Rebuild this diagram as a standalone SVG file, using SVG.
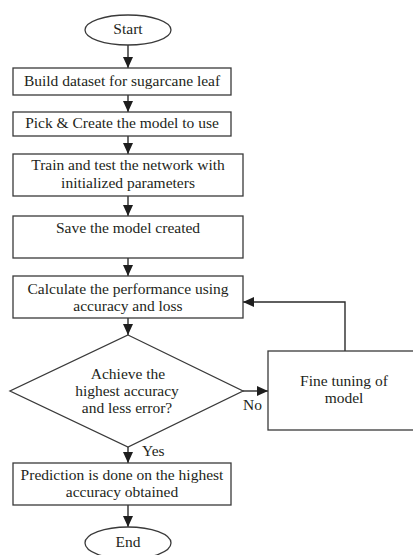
<svg xmlns="http://www.w3.org/2000/svg" width="413" height="555" viewBox="0 0 413 555">
  <style>
    .shape { fill: #ffffff; stroke: #3a3a3a; stroke-width: 1.3; }
    .edge { fill: none; stroke: #2b2b2b; stroke-width: 1.4; }
    .label { font-family: "Liberation Serif", "Times New Roman", serif; font-size: 15.5px; fill: #231f20; text-anchor: middle; }
    .tag { font-family: "Liberation Serif", "Times New Roman", serif; font-size: 15.5px; fill: #231f20; }
  </style>
  <defs>
    <marker id="arrow" markerUnits="userSpaceOnUse" markerWidth="12" markerHeight="12" viewBox="0 0 12 12" refX="11" refY="6" orient="auto">
      <path d="M0,1 L11,6 L0,11 Z" fill="#1e1e1e"/>
    </marker>
  </defs>

  <rect width="413" height="555" fill="#ffffff"/>

  <!-- connectors -->
  <g id="connectors">
    <line class="edge" x1="128" y1="45" x2="128" y2="68" marker-end="url(#arrow)"/>
    <line class="edge" x1="128" y1="95" x2="128" y2="112" marker-end="url(#arrow)"/>
    <line class="edge" x1="128" y1="136" x2="128" y2="154" marker-end="url(#arrow)"/>
    <line class="edge" x1="128" y1="196" x2="128" y2="216" marker-end="url(#arrow)"/>
    <line class="edge" x1="128" y1="258" x2="128" y2="276" marker-end="url(#arrow)"/>
    <line class="edge" x1="128" y1="318" x2="128" y2="335" marker-end="url(#arrow)"/>
    <line class="edge" x1="243" y1="391" x2="268" y2="391" marker-end="url(#arrow)"/>
    <polyline class="edge" points="345,351 345,302 243,302" marker-end="url(#arrow)"/>
    <line class="edge" x1="128" y1="447" x2="128" y2="463" marker-end="url(#arrow)"/>
    <line class="edge" x1="128" y1="505" x2="128" y2="527" marker-end="url(#arrow)"/>
    <text class="tag" x="243" y="410">No</text>
    <text class="tag" x="142" y="456">Yes</text>
  </g>

  <g id="start">
    <ellipse class="shape" cx="128" cy="30" rx="43" ry="15"/>
    <text class="label" x="128" y="34">Start</text>
  </g>

  <g id="build-dataset">
    <rect class="shape" x="13" y="68" width="218" height="27"/>
    <text class="label" x="122" y="86">Build dataset for sugarcane leaf</text>
  </g>

  <g id="pick-model">
    <rect class="shape" x="13" y="112" width="218" height="24"/>
    <text class="label" x="122" y="128">Pick &amp; Create the model to use</text>
  </g>

  <g id="train-test">
    <rect class="shape" x="13" y="154" width="230" height="42"/>
    <text class="label" x="128" y="170">Train and test the network with</text>
    <text class="label" x="128" y="188">initialized parameters</text>
  </g>

  <g id="save-model">
    <rect class="shape" x="13" y="216" width="230" height="42"/>
    <text class="label" x="128" y="233">Save the model created</text>
  </g>

  <g id="calculate">
    <rect class="shape" x="13" y="276" width="230" height="42"/>
    <text class="label" x="128" y="294">Calculate the performance using</text>
    <text class="label" x="128" y="311">accuracy and loss</text>
  </g>

  <g id="decision">
    <polygon class="shape" points="128,335 243,391 128,447 10,391"/>
    <text class="label" x="128" y="379">Achieve the</text>
    <text class="label" x="127" y="396">highest accuracy</text>
    <text class="label" x="127" y="413">and less error?</text>
  </g>

  <g id="fine-tuning">
    <rect class="shape" x="268" y="351" width="150" height="79"/>
    <text class="label" x="344" y="386">Fine tuning of</text>
    <text class="label" x="344" y="403">model</text>
  </g>

  <g id="prediction">
    <rect class="shape" x="13" y="463" width="218" height="42"/>
    <text class="label" x="122" y="480">Prediction is done on the highest</text>
    <text class="label" x="122" y="497">accuracy obtained</text>
  </g>

  <g id="end">
    <ellipse class="shape" cx="128" cy="543" rx="43" ry="16"/>
    <text class="label" x="128" y="547">End</text>
  </g>
</svg>
